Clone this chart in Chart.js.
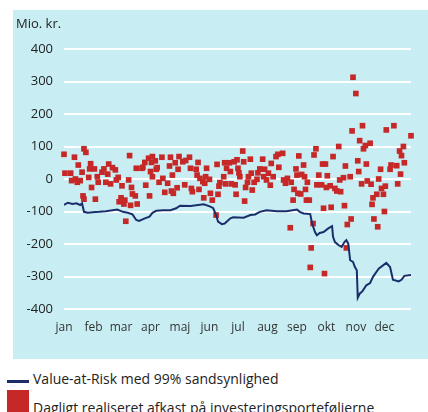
<!DOCTYPE html>
<html>
<head>
<meta charset="utf-8">
<script src="https://cdn.jsdelivr.net/npm/chart.js@4/dist/chart.umd.min.js"></script>
<style>
  body { margin: 0; width: 428px; height: 412px; background: #fff; overflow: hidden; position: relative; font-family: 'Open Sans', sans-serif; color: #222; }
  #panel { position: absolute; left: 13px; top: 10px; width: 415px; height: 349px; background: #c8eef3; }
  #unit { position: absolute; left: 3px; top: 4px; font-size: 13px; }
  #chartBox { position: absolute; left: 0; top: 0; width: 415px; height: 349px; }
  .leg { position: absolute; left: 33px; font-size: 14px; white-space: nowrap; }
  .mark { position: absolute; left: 7px; }
</style>
</head>
<body>
<div id="panel">
  <div id="chartBox"><canvas id="myChart" width="415" height="349"></canvas></div>
  <div id="unit">Mio. kr.</div>
</div>
<div class="mark" style="top:380px;width:22px;height:3px;background:#1a2e6c"></div>
<div class="leg" style="top:369px">Value-at-Risk med 99% sandsynlighed</div>
<div class="mark" style="top:390px;width:22px;height:22px;background:#c62828"></div>
<div class="leg" style="top:398px">Dagligt realiseret afkast på investeringsporteføljerne</div>

<script>
var monthTicks = [0, 31, 60, 91, 122, 153, 183, 214, 245, 276, 307, 337]
var monthLabels = ['jan', 'feb', 'mar', 'apr', 'maj', 'jun', 'jul', 'aug', 'sep', 'okt', 'nov', 'dec']

// Value-at-Risk (dag i året, mio. kr.)
var varDays = [0, 4, 9, 13, 17, 19, 21, 25, 30, 37, 44, 51, 56, 62, 67, 72, 76, 79, 85, 90,
  93, 97, 104, 112, 118, 122, 133, 147, 154, 157, 160, 162, 166, 169, 175, 178, 189, 196, 201, 206,
  213, 224, 234, 245, 248, 252, 259, 261, 264, 266, 269, 273, 278, 282, 283, 285, 289, 292, 295, 297,
  299, 301, 304, 306, 308, 309, 311, 314, 318, 322, 325, 331, 339, 343, 346, 352, 355, 358, 365]
var varValues = [-80, -73, -77, -75, -80, -75, -101, -104, -102, -101, -99, -96, -94, -101, -104, -109, -126, -129, -121, -116,
  -104, -98, -96, -96, -90, -82, -83, -78, -85, -90, -111, -131, -139, -137, -121, -118, -119, -111, -109, -101,
  -96, -99, -99, -94, -101, -106, -108, -137, -163, -173, -166, -163, -152, -145, -178, -194, -204, -209, -194, -188,
  -199, -250, -255, -271, -281, -365, -353, -345, -327, -320, -301, -276, -258, -271, -310, -315, -310, -298, -295]

// Dagligt realiseret afkast (dag i året, mio. kr.)
var returnDays = [0, 1, 7, 8, 11, 12, 14, 15, 17, 19, 20, 21, 21, 23, 26, 27, 28, 29, 32, 33,
  35, 36, 40, 42, 44, 46, 47, 49, 51, 54, 55, 57, 58, 60, 61, 63, 64, 65, 68, 69,
  70, 71, 72, 75, 76, 77, 82, 83, 85, 86, 89, 90, 91, 92, 93, 93, 96, 97, 98, 100,
  103, 104, 106, 109, 111, 112, 113, 114, 115, 117, 119, 120, 121, 125, 127, 128, 132, 133, 134, 135,
  139, 140, 141, 142, 143, 146, 147, 148, 149, 150, 153, 154, 156, 160, 161, 162, 163, 164, 168, 169,
  170, 171, 174, 175, 176, 179, 180, 181, 182, 183, 184, 185, 188, 189, 190, 191, 193, 194, 196, 197,
  198, 200, 203, 204, 206, 209, 210, 211, 213, 215, 217, 218, 220, 223, 225, 226, 230, 231, 233, 235,
  238, 239, 241, 242, 244, 245, 246, 247, 249, 250, 252, 253, 254, 255, 256, 258, 259, 260, 262, 263,
  265, 266, 268, 271, 272, 273, 274, 275, 276, 277, 280, 281, 283, 285, 287, 289, 290, 291, 294, 295,
  296, 297, 298, 301, 302, 303, 304, 307, 309, 310, 311, 313, 314, 315, 317, 318, 319, 322, 323, 324,
  325, 326, 329, 330, 331, 333, 334, 336, 337, 338, 339, 343, 344, 347, 350, 351, 353, 354, 355, 357,
  358, 365]
var returnValues = [76, 18, 18, -5, 67, 0, -10, 43, -5, 21, -52, -62, 93, 82, 5, 31, 47, -26, 31, -62,
  7, -10, 21, 31, -10, 15, 46, -15, 35, 28, -3, 5, -70, -58, -21, -77, -65, -130, -3, 72,
  -81, -26, -46, -52, 33, -77, 33, 36, 51, -19, 64, -52, 23, 51, 7, 69, 56, 30, 35, -10,
  67, 2, -41, -13, 40, 67, -37, 12, -44, 50, -27, 30, 69, 53, -18, 57, 67, 33, -29, -39,
  30, 12, 51, -32, 2, -8, -58, -13, 7, 33, -1, -44, -65, -111, 45, -47, -22, -11, 7, 50,
  -15, 33, 50, 23, -15, 53, -18, -47, 59, 33, 19, 7, 86, 53, -68, -26, -10, 7, 61, 18,
  -34, -10, -1, 19, 31, 61, 7, 30, -3, 18, -19, 48, 7, 69, 76, 36, 79, -3, -13, 2,
  -150, -10, -65, -32, 31, 12, -44, 71, -46, 14, 43, 7, -32, -65, -10, -65, -272, -212, -137, 74,
  93, -18, 12, -18, 46, -90, -291, 46, -26, 10, -21, -87, 69, -29, -37, 100, -3, -39, 4, -82,
  40, -212, -140, 7, -123, 148, 313, 263, 56, 23, 118, -15, 164, 93, 103, 46, -6, 110, -16, -78,
  -58, -123, -47, -147, 0, 30, -29, -47, -100, -22, 151, 30, 43, 164, 41, -15, 86, 15, 72, 100,
  50, 133]

var yTicks = [-400, -300, -200, -100, 0, 100, 200, 300, 400]

var varData = varDays.map((d, i) => ({ x: d, y: varValues[i] }))
var returnData = returnDays.map((d, i) => ({ x: d, y: returnValues[i] }))

var ctx = document.getElementById('myChart').getContext('2d')
var chart = new Chart(ctx, {
  type: 'scatter',
  data: {
    datasets: [{
      label: 'Value-at-Risk med 99% sandsynlighed',
      data: varData,
      showLine: true,
      borderColor: '#1a2e6c',
      borderWidth: 2,
      pointRadius: 0,
      order: 0
    }, {
      label: 'Dagligt realiseret afkast på investeringsporteføljerne',
      data: returnData,
      pointStyle: 'rect',
      pointRadius: 4,
      backgroundColor: '#c62828',
      borderWidth: 0,
      clip: false,
      order: 1
    }]
  },
  options: {
    responsive: false,
    animation: false,
    devicePixelRatio: 1,
    layout: { padding: { left: 0, right: 17, top: 39, bottom: 20 } },
    plugins: { legend: { display: false }, tooltip: { enabled: false } },
    scales: {
      x: {
        type: 'linear',
        min: 0,
        max: 365,
        grid: { display: false, drawTicks: false },
        border: { display: false },
        afterBuildTicks: (scale) => { scale.ticks = monthTicks.map(v => ({ value: v })) },
        afterFit: (scale) => { scale.height = 30 },
        ticks: {
          padding: 11,
          maxRotation: 0,
          autoSkip: false,
          color: '#333',
          font: { family: 'Open Sans', size: 12 },
          callback: (v) => monthLabels[monthTicks.indexOf(v)]
        }
      },
      y: {
        min: -400,
        max: 400,
        grid: { color: '#ffffff', lineWidth: 2, drawTicks: false },
        border: { display: false },
        afterBuildTicks: (scale) => { scale.ticks = yTicks.map(v => ({ value: v })) },
        afterFit: (scale) => { scale.width = 51 },
        ticks: {
          padding: 11,
          color: '#222',
          font: { family: 'Open Sans', size: 13 }
        }
      }
    }
  }
})
</script>
</body>
</html>
